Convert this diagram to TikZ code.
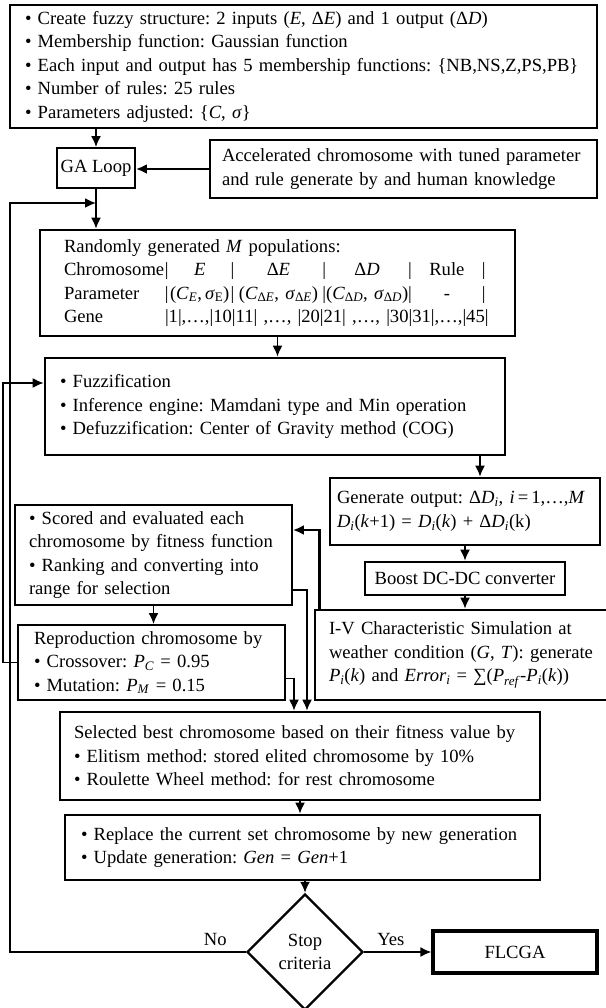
\documentclass[tikz,border=0pt]{standalone}
\usepackage{fontspec}
\setmainfont{Liberation Serif}
\usetikzlibrary{arrows.meta,positioning,calc,shapes.geometric}

\newcommand{\flfont}{\fontsize{18.6}{23.5}\selectfont}
\newcommand{\bul}{\textbullet\ }
\frenchspacing

\begin{document}
\begin{tikzpicture}[x=1pt,y=-1pt,
  box/.style={draw,line width=1.8pt,align=left,inner sep=0pt,font=\flfont},
  heavy/.style={box,line width=2.6pt},
  lbl/.style={font=\flfont,inner sep=1pt},
  arrow/.style={-{Latex[length=11pt,width=10pt]},line width=1.8pt},
  bigarrow/.style={arrow,line width=2.8pt}]
  \useasboundingbox (0,0) rectangle (605,1008);

  \node[heavy,minimum width=587,minimum height=123,text width=557] (fuzzy) at (303.5,66.5)
    {\bul Create fuzzy structure: 2 inputs (\textit{E}, Δ\textit{E}) and 1 output (Δ\textit{D})\\
     \bul Membership function: Gaussian function\\
     \bul Each input and output has 5 membership functions: \{NB,NS,Z,PS,PB\}\\
     \bul Number of rules: 25 rules\\
     \bul Parameters adjusted: \{\textit{C}, \textit{σ}\}};
  \node[box,minimum width=78,minimum height=40,align=center] (gaLoop) at (96,168) {GA Loop};
  \node[heavy,minimum width=387,minimum height=58,text width=363] (accel) at (403.5,169)
    {Accelerated chromosome with tuned parameter\\
     and rule generate by and human knowledge};
  \node[heavy,minimum width=475,minimum height=106,text width=427] (popu) at (277.5,283)
    {Randomly generated \textit{M} populations:\\
     \makebox[101pt][l]{Chromosome}|\makebox[62pt]{\textit{E}}|\makebox[88pt]{Δ\textit{E}}|\makebox[82pt]{Δ\textit{D}}|\makebox[70pt]{Rule}|\\
     \makebox[101pt][l]{Parameter}|\makebox[62pt]{(\textit{C}\textsubscript{\textit{E}},\,\textit{σ}\textsubscript{E})}|\makebox[88pt]{(\textit{C}\textsubscript{Δ\textit{E}}, \textit{σ}\textsubscript{Δ\textit{E}})}|\makebox[82pt]{(\textit{C}\textsubscript{Δ\textit{D}}, \textit{σ}\textsubscript{Δ\textit{D}})}|\makebox[70pt]{-}|\\
     \makebox[101pt][l]{Gene}|1|,…,|10|11| ,…, |20|21| ,…, |30|31|,…,|45|};
  \node[heavy,minimum width=460,minimum height=97,text width=430] (fuzz) at (275,406.5)
    {\bul Fuzzification\\
     \bul Inference engine: Mamdani type and Min operation\\
     \bul Defuzzification: Center of Gravity method (COG)};
  \node[heavy,minimum width=270,minimum height=67,text width=256] (gen) at (465,511.5)
    {\mbox{Generate output: Δ\textit{D}\textsubscript{\textit{i}}, \textit{i}\,=\,1,…,\textit{M}}\\
     \textit{D}\textsubscript{\textit{i}}(\textit{k}+1) = \textit{D}\textsubscript{\textit{i}}(\textit{k}) + Δ\textit{D}\textsubscript{\textit{i}}(k)};
  \node[box,minimum width=277,minimum height=100,text width=249] (score) at (153.5,555)
    {\bul Scored and evaluated each\\
     chromosome by fitness function\\
     \bul Ranking and converting into\\
     range for selection};
  \node[heavy,minimum width=200,minimum height=33,align=center] (boost) at (465,578.5) {Boost DC-DC converter};
  \node[box,minimum width=267,minimum height=75,text width=235] (repro) at (151.5,662.5)
    {Reproduction chromosome by\\
     \bul Crossover: \textit{P}\textsubscript{\textit{C}} = 0.95\\
     \bul Mutation: \textit{P}\textsubscript{\textit{M}} = 0.15};
  \node[heavy,minimum width=294,minimum height=90,text width=266] (iv) at (462,655)
    {I-V Characteristic Simulation at\\
     weather condition (\textit{G}, \textit{T}): generate\\
     \textit{P}\textsubscript{\textit{i}}(\textit{k}) and \textit{Error}\textsubscript{\textit{i}} = ∑(\textit{P}\textsubscript{\textit{ref}}-\textit{P}\textsubscript{\textit{i}}(\textit{k}))};
  \node[heavy,minimum width=480,minimum height=88,text width=452] (sel) at (300,756)
    {Selected best chromosome based on their fitness value by\\
     \bul Elitism method: stored elited chromosome by 10\%\\
     \bul Roulette Wheel method: for rest chromosome};
  \node[heavy,minimum width=475,minimum height=65,text width=443] (repl) at (302.5,847.5)
    {\bul Replace the current set chromosome by new generation\\
     \bul Update generation: \textit{Gen} = \textit{Gen}+1};
  \node[draw,diamond,aspect=1,minimum width=116,minimum height=116,line width=2.4pt,
    inner sep=0pt,align=center,font=\flfont] (stop) at (305,952) {Stop\\criteria};
  \node[box,line width=3.2pt,minimum width=164,minimum height=42,align=center] (flcga) at (515,952) {FLCGA};

  \coordinate (back) at (10,0);
  \coordinate (join) at (96,203);

  \draw[arrow] (fuzzy.south -| gaLoop.north) -- (gaLoop.north);
  \draw[bigarrow] (accel.west) -- (accel.west -| gaLoop.east);
  \draw[arrow] (gaLoop.south) -- (gaLoop.south |- popu.north);
  \draw[arrow] (stop.west) -- (stop.west -| back) |- (join);
  \draw[arrow] (popu.south) -- (popu.south |- fuzz.north);
  \draw[arrow] ([xshift=15pt]gen.north |- fuzz.south) -- ([xshift=15pt]gen.north);
  \draw[arrow] (gen.south) -- (boost.north);
  \draw[arrow] (boost.south) -- (boost.south |- iv.north);
  \draw[bigarrow] ([xshift=6pt]iv.north west) |- ([yshift=25pt]score.east);
  \draw[arrow] (score.south) -- (score.south |- repro.north);
  \draw[arrow] ([yshift=-35pt]score.east) -| ([xshift=7pt]sel.north);
  \draw[arrow] ([yshift=-16pt]repro.east) -| ([xshift=-6pt]sel.north);
  \draw[arrow] (repro.west) -- ++(-14,0) |- ([yshift=23.5pt]fuzz.west);
  \draw[arrow] (sel.south) -- (sel.south |- repl.north);
  \draw[arrow] (repl.south -| stop.north) -- (stop.north);
  \draw[arrow] (stop.east) -- (flcga.west);

  \node[lbl,above left=5pt and 18pt of stop.west] (no) {No};
  \node[lbl,above right=5pt and 12pt of stop.east] (yes) {Yes};
\end{tikzpicture}
\end{document}
